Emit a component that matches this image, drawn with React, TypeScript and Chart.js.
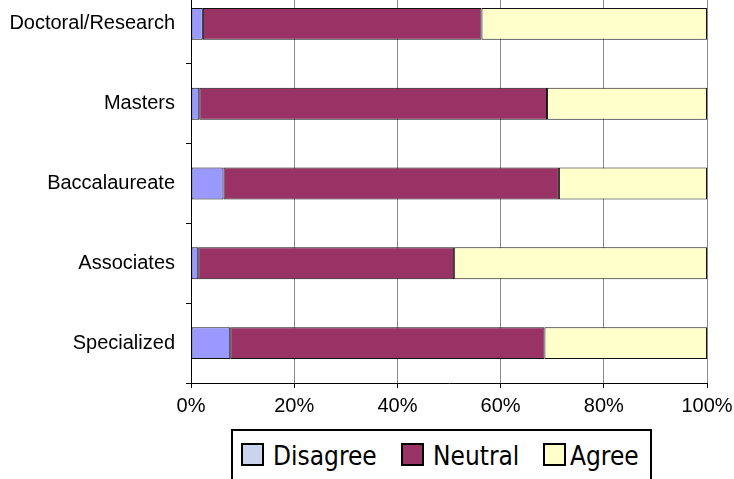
import React, { useEffect, useRef } from "react";
import { Chart, registerables } from "chart.js";

Chart.register(...registerables);

const categories = ["Doctoral/Research", "Masters", "Baccalaureate", "Associates", "Specialized"];
const disagree = [2.3, 1.6, 6.3, 1.4, 7.6];
const neutral = [54.0, 67.4, 65.0, 49.6, 60.9];
const agree = [43.7, 31.0, 28.7, 49.0, 31.5];
const seriesNames = ["Disagree", "Neutral", "Agree"];
const barColors = ["#9999FF", "#993366", "#FFFFCC"];
const legendColors = ["#CAD4EE", "#993366", "#FFFFCC"];
const xTickStep = 20;

export default function App() {
  const ref = useRef<HTMLCanvasElement | null>(null);

  useEffect(() => {
    if (!ref.current) return;
    const values = [disagree, neutral, agree];
    const chart = new Chart(ref.current, {
      type: "bar",
      data: {
        labels: categories,
        datasets: seriesNames.map((name, i) => ({
          label: name,
          data: values[i],
          backgroundColor: barColors[i],
          borderColor: "#111",
          borderWidth: 1,
          borderSkipped: false,
          barPercentage: 0.4,
          categoryPercentage: 1,
        })),
      },
      options: {
        indexAxis: "y",
        responsive: false,
        maintainAspectRatio: false,
        animation: false,
        layout: { padding: { top: 24, right: 47, left: 0, bottom: 0 } },
        plugins: { legend: { display: false }, tooltip: { enabled: false } },
        scales: {
          x: {
            stacked: true,
            min: 0,
            max: 100,
            ticks: {
              stepSize: xTickStep,
              callback: (v: any) => v + "%",
              color: "#000",
              font: { family: "'Liberation Sans', Arial, sans-serif", size: 20 },
              padding: 6,
              maxRotation: 0,
            },
            grid: { color: "#888", tickColor: "#000", tickLength: 5, lineWidth: 1 },
            border: { color: "#000", width: 1 },
            afterFit: (s: any) => {
              s.height = 96;
            },
          },
          y: {
            stacked: true,
            ticks: {
              color: "#000",
              font: { family: "'Liberation Sans', Arial, sans-serif", size: 20 },
              padding: 11,
            },
            grid: { drawOnChartArea: false, tickColor: "#000", tickLength: 5, offset: true },
            border: { color: "#000", width: 1 },
            afterFit: (s: any) => {
              s.width = 191;
            },
          },
        },
      },
    });
    return () => chart.destroy();
  }, []);

  const boxX = [241, 401, 543];
  const textX = [273, 433, 570];

  return (
    <div style={{ position: "fixed", left: 0, top: 0, width: 734, height: 479, overflow: "hidden", background: "#fff" }}>
      <canvas ref={ref} width={754} height={519} style={{ position: "absolute", left: 0, top: -40, width: 754, height: 519 }} />
      <div
        style={{
          position: "absolute",
          left: 231,
          top: 429,
          width: 421,
          height: 70,
          border: "2px solid #000",
          boxSizing: "border-box",
          background: "#fff",
        }}
      />
      {seriesNames.map((name, i) => (
        <React.Fragment key={name}>
          <div
            style={{
              position: "absolute",
              left: boxX[i],
              top: 443,
              width: 23,
              height: 23,
              boxSizing: "border-box",
              border: "2px solid #000",
              background: legendColors[i],
            }}
          />
          <div
            style={{
              position: "absolute",
              left: textX[i],
              top: 441,
              fontFamily: "'DejaVu Sans Condensed', 'DejaVu Sans', sans-serif",
              fontStretch: "condensed",
              fontSize: 26,
              lineHeight: "normal",
              color: "#000",
              whiteSpace: "nowrap",
            }}
          >
            {name}
          </div>
        </React.Fragment>
      ))}
    </div>
  );
}
